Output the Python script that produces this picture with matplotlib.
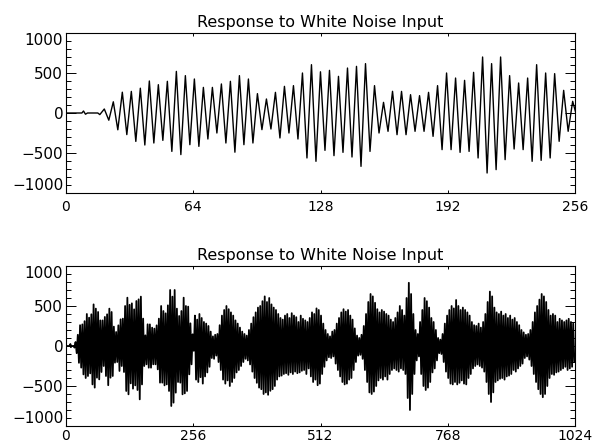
# Two-panel IDL-style plot of a filter response to white noise input
import numpy as np
import matplotlib.pyplot as plt

# --- Data (sample index vs response) ---
# quiet lead-in before the oscillation starts
lead_t = [0, 8, 8.8, 9.8, 10.8, 16]
lead_v = [0, 0, 25, -15, 0, 0]

# alternating peaks/troughs, one every half period after the onset
onset = 17
half_period = 2.265

# first 256 samples (shown zoomed in the top panel)
extrema_first = [
    -20, 50, -90, 140, -210, 260, -270, 270, -355, 310, -400, 400, -375,
    354, -342, 396, -480, 520, -520, 467, -396, 425, -417, 320, -325, 320,
    -250, 363, -375, 396, -490,
    467, -396, 425, -375, 242, -208, 175, -200, 258, -312, 333, -250, 342,
    -325, 500, -562, 604, -604, 515,
    -467, 533, -533, 458, -492, 562, -550, 583, -667, 617, -480, 342, -250,
    133, -229, 271, -271, 270,
    -271, 229, -229, 217, -229, 258, -292, 342, -458, 500, -458, 437, -492,
    408, -480, 508, -562, 700, -750,
    617, -708, 700, -583, 467, -450, 375, -458, 437, -604, 604, -592, 500,
    -562, 492, -354, 283, -229, 146, -60,
]

# remaining samples up to 1024 (bottom panel)
extrema_rest = [
    380, -420, 330, -450, 400, -390, 350, -470, 300, -380,
    280, -330, 250, -260, 180, -150, 120, -160, 140, -120,
    150, -200, 260, -300, 380, -420, 450, -470, 500, -430,
    460, -500, 420, -450, 380, -400, 320, -330, 280, -300,
    230, -250, 180, -200, 150, -160, 130, -180, 200, -230,
    280, -320, 360, -400, 420, -460, 480, -520, 500, -540,
    560, -600, 620, -580, 550, -610, 600, -560, 520, -540,
    480, -500, 450, -420, 400, -380, 350, -370, 330, -350,
    380, -340, 400, -360, 350, -330, 410, -350, 380, -320,
    360, -340, 300, -330, 380, -310, 340, -300, 320, -350,
    300, -280, 350, -380, 420, -450, 400, -420, 470, -490,
    450, -470, 380, -350, 280, -260, 200, -180, 150, -140,
    120, -150, 180, -130, 200, -220, 280, -300, 350, -380,
    420, -450, 460, -480, 430, -470, 450, -420, 380, -400,
    330, -300, 220, -200, 130, -120, 100, -110, 140, -160,
    250, -300, 400, -450, 550, -580, 650, -600, 620, -570,
    540, -500, 460, -430, 420, -400, 450, -420, 430, -380,
    400, -420, 380, -350, 330, -300, 300, -280, 350, -300,
    420, -320, 500, -280, 450, -300, 380, -350, 600, -650,
    790, -800, 650, -600, 400, -350, 200, -180, 150, -130,
    300, -350, 450, -500, 600, -550, 560, -520, 480, -450,
    350, -330, 300, -280, 200, -180, 100, -90, 80, -100,
    150, -200, 280, -320, 380, -400, 450, -470, 500, -480,
    470, -450, 575, -480, 500, -460, 450, -430, 480, -470,
    450, -480, 420, -400, 380, -350, 300, -280, 260, -250,
    250, -230, 280, -250, 230, -270, 300, -320, 400, -450,
    550, -600, 680, -700, 620, -580, 480, -450, 420, -430,
    400, -410, 430, -400, 380, -420, 400, -380, 350, -370,
    380, -350, 330, -300, 350, -320, 300, -280, 260, -250,
    200, -220, 170, -150, 140, -130, 150, -170, 200, -250,
    300, -350, 420, -450, 500, -540, 580, -600, 650, -640,
    620, -600, 550, -500, 450, -400, 380, -350, 400, -360,
    380, -330, 300, -320, 340, -300, 320, -280, 300, -260,
    320, -300, 340, -280, 300, -260, 280, -200,
]

title = "Response to White Noise Input"
top_xticks = [0, 64, 128, 192, 256]
bottom_xticks = [0, 256, 512, 768, 1024]
yticks = [-1000, -500, 0, 500, 1000]

# --- Assemble the series ---
extrema = np.array(extrema_first + extrema_rest, dtype=float)
ext_t = onset + half_period * np.arange(len(extrema))
t = np.concatenate([lead_t, ext_t])
v = np.concatenate([lead_v, extrema])

plt.rcParams["font.family"] = "DejaVu Sans"
fig = plt.figure(figsize=(5.93, 4.46), dpi=100)

ax_top = fig.add_axes([66 / 593, 253 / 446, 509 / 593, 160 / 446])
ax_bot = fig.add_axes([66 / 593, 20 / 446, 509 / 593, 160 / 446])

panels = [(ax_top, 256, top_xticks, 1.0, 5), (ax_bot, 1024, bottom_xticks, 1.3, 2)]
for ax, xmax, xticks, lw, xpad in panels:
    ax.plot(t, v, color="black", linewidth=lw)
    ax.set_xlim(0, xmax)
    ax.set_ylim(-1000, 1000)
    ax.set_xticks(xticks)
    ax.set_yticks(yticks)
    ax.set_yticks(np.arange(-1000, 1001, 100), minor=True)
    ax.set_title(title, fontsize=11.5, pad=4)

    # IDL style: inward ticks on all four sides
    ax.tick_params(axis="x", which="major", direction="in", length=2.3,
                   width=0.7, top=True, labelsize=10, pad=xpad)
    ax.tick_params(axis="y", which="major", direction="in", length=7.3,
                   width=0.7, right=True, labelsize=11, pad=2)
    ax.tick_params(axis="y", which="minor", direction="in", length=3.6,
                   width=0.7, right=True)
    for s in ax.spines.values():
        s.set_linewidth(0.8)

    # end labels sit inside the axis range like IDL does
    labels = ax.yaxis.get_majorticklabels()
    labels[0].set_va("bottom")
    labels[-1].set_va("top")

fig.savefig("out.png", dpi=100)
